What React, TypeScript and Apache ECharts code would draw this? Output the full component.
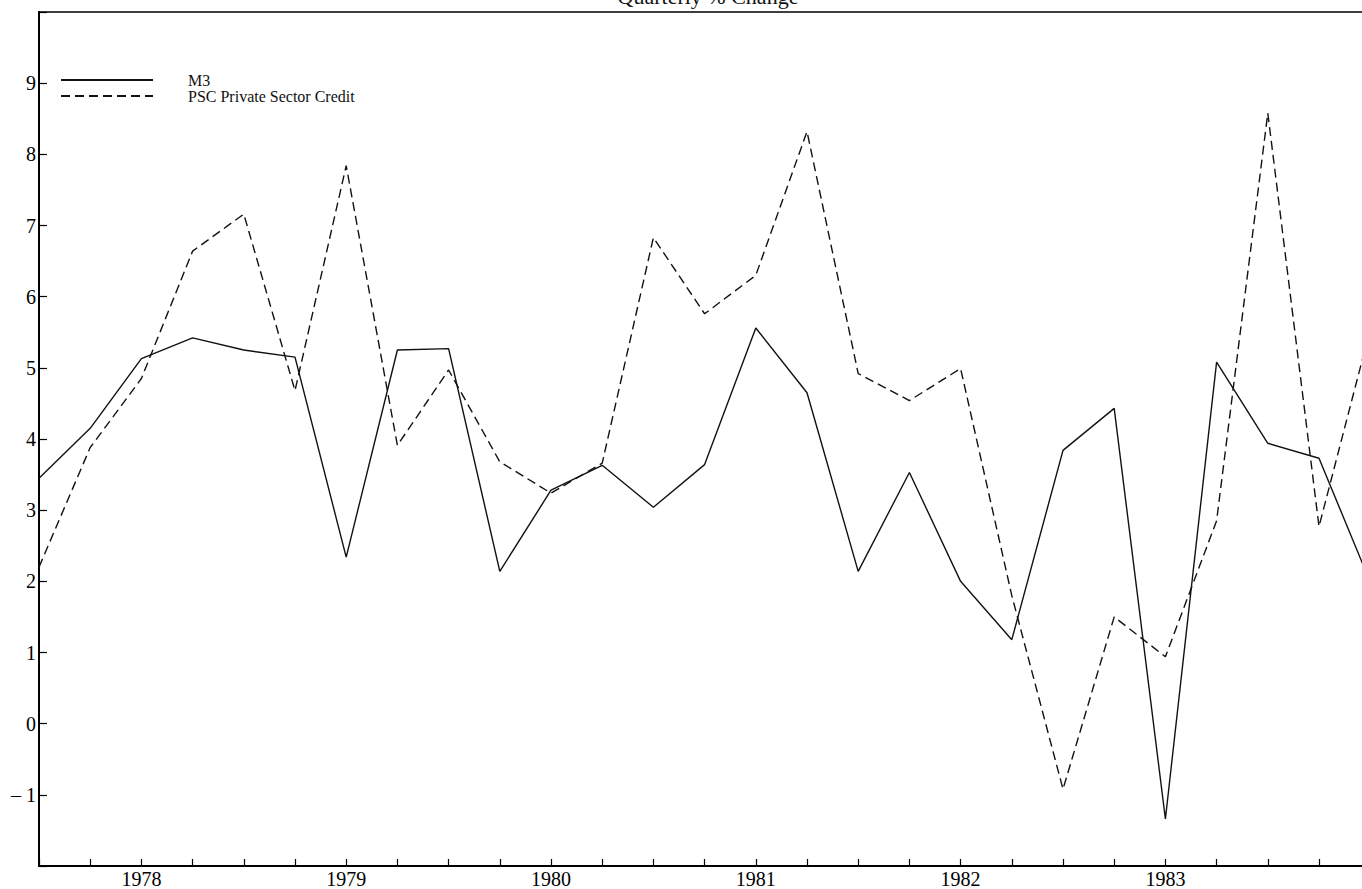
import React, { useEffect, useRef } from "react";
import * as echarts from "echarts";

// Quarterly observations, 1977 Q3 – 1984 Q1
const quarters = [
  "1977 Q3", "1977 Q4",
  "1978 Q1", "1978 Q2", "1978 Q3", "1978 Q4",
  "1979 Q1", "1979 Q2", "1979 Q3", "1979 Q4",
  "1980 Q1", "1980 Q2", "1980 Q3", "1980 Q4",
  "1981 Q1", "1981 Q2", "1981 Q3", "1981 Q4",
  "1982 Q1", "1982 Q2", "1982 Q3", "1982 Q4",
  "1983 Q1", "1983 Q2", "1983 Q3", "1983 Q4",
  "1984 Q1",
];

// Years that carry a label on the time axis
const labelledYears = ["1978", "1979", "1980", "1981", "1982", "1983"];

// M3 money supply, quarterly % change
const m3 = [
  3.45, 4.15, 5.13, 5.42, 5.25, 5.15, 2.34, 5.25, 5.27, 2.14, 3.28, 3.63, 3.04,
  3.64, 5.56, 4.65, 2.14, 3.53, 2.0, 1.18, 3.84, 4.43, -1.34, 5.08, 3.94, 3.73,
  1.99,
];

// Private sector credit, quarterly % change
const psc = [
  2.2, 3.88, 4.85, 6.64, 7.16, 4.68, 7.84, 3.91, 4.97, 3.68, 3.24, 3.66, 6.83,
  5.76, 6.3, 8.32, 4.92, 4.54, 4.99, 1.8, -0.92, 1.5, 0.94, 2.85, 8.58, 2.77,
  5.54,
];

const seriesNames = ["M3", "PSC Private Sector Credit"];
const chartTitle = "Quarterly % Change";

const FONT = "'Liberation Serif', 'Times New Roman', serif";
const INK = "#111";

export default function App() {
  const ref = useRef<HTMLDivElement>(null);

  useEffect(() => {
    if (!ref.current) return;
    const chart = echarts.init(ref.current, undefined, { renderer: "svg" });

    chart.setOption({
      animation: false,
      backgroundColor: "#fff",
      grid: {
        left: 39,
        top: 12,
        right: 9.8,
        bottom: 20,
        show: true,
        borderColor: "#000",
        borderWidth: 1.5,
        containLabel: false,
      },
      graphic: [
        {
          type: "text",
          style: {
            text: chartTitle,
            x: 708,
            y: 7,
            align: "center",
            verticalAlign: "bottom",
            font: `22px ${FONT}`,
            fill: INK,
          },
        },
      ],
      legend: {
        orient: "vertical",
        left: 60,
        top: 72,
        padding: 0,
        itemWidth: 92,
        itemHeight: 14,
        itemGap: 0,
        selectedMode: false,
        data: seriesNames,
        itemStyle: { color: "rgba(0,0,0,0)", borderWidth: 0, opacity: 0 },
        textStyle: {
          fontFamily: FONT,
          fontSize: 16,
          color: INK,
          padding: [0, 0, 0, 30],
        },
      },
      xAxis: {
        type: "category",
        data: quarters,
        boundaryGap: false,
        axisLine: {
          show: true,
          onZero: false,
          lineStyle: { color: "#000", width: 2 },
        },
        axisTick: {
          show: true,
          inside: true,
          length: 7,
          interval: 0,
          lineStyle: { color: "#000", width: 1.2 },
        },
        axisLabel: {
          interval: 0,
          margin: 3,
          color: "#000",
          fontFamily: FONT,
          fontSize: 20,
          formatter: (v: string) => {
            const year = v.slice(0, 4);
            return v.endsWith("Q1") && labelledYears.includes(year) ? year : "";
          },
        },
        splitLine: { show: false },
      },
      yAxis: {
        type: "value",
        min: -2,
        max: 10,
        interval: 1,
        axisLine: { show: true, lineStyle: { color: "#000", width: 2 } },
        axisTick: {
          show: true,
          inside: true,
          length: 8,
          lineStyle: { color: "#000", width: 1.2 },
        },
        axisLabel: {
          margin: 3,
          color: "#000",
          fontFamily: FONT,
          fontSize: 20,
          formatter: (v: number) =>
            v === 10 || v === -2 ? "" : v < 0 ? "\u2013 " + Math.abs(v) : String(v),
        },
        splitLine: { show: false },
      },
      series: [
        {
          name: seriesNames[0],
          type: "line",
          data: m3,
          symbol: "none",
          lineStyle: { color: INK, width: 1.4, type: "solid" },
          itemStyle: { color: INK },
        },
        {
          name: seriesNames[1],
          type: "line",
          data: psc,
          symbol: "none",
          lineStyle: { color: INK, width: 1.4, type: [9, 5] },
          itemStyle: { color: INK },
        },
      ],
    });

    return () => chart.dispose();
  }, []);

  return (
    <div
      style={{
        position: "absolute",
        left: 0,
        top: 0,
        width: 1362,
        height: 889,
        overflow: "hidden",
        background: "#fff",
      }}
    >
      <div ref={ref} style={{ width: 1380, height: 889 }} />
    </div>
  );
}
